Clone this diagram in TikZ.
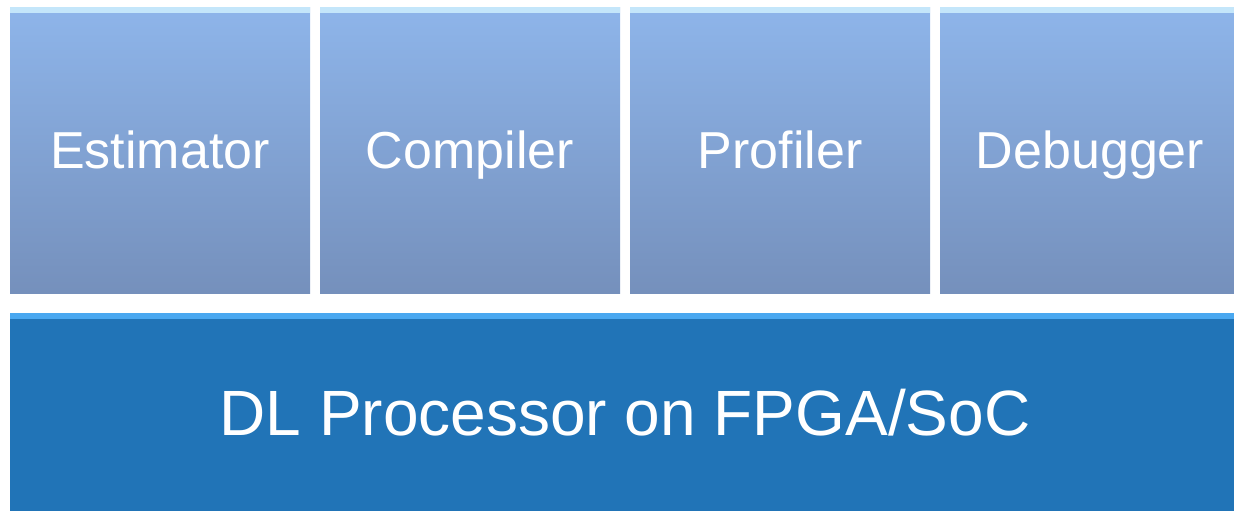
\documentclass[tikz,border=0pt]{standalone}
\usepackage{fontspec}
\setmainfont{Liberation Sans}
\usetikzlibrary{positioning}

\definecolor{tooltop}{HTML}{8EB5EA}
\definecolor{toolbottom}{HTML}{7590BC}
\definecolor{toolrim}{HTML}{C4E6FA}
\definecolor{procfill}{HTML}{2174B7}
\definecolor{procrim}{HTML}{4AA8F0}

\begin{document}
\begin{tikzpicture}[
        toolnode/.style={rectangle, top color=tooltop, bottom color=toolbottom,
            minimum width=150pt, minimum height=143pt, inner sep=0pt, outer sep=0pt,
            text=white, font=\fontsize{26}{30}\selectfont,
            text height=18.6pt, text depth=0pt,
            path picture={\fill[toolrim] (path picture bounding box.north west)
                rectangle ([yshift=-3pt]path picture bounding box.north east);}},
        procnode/.style={rectangle, fill=procfill,
            minimum width=615pt, minimum height=100pt, inner sep=0pt, outer sep=0pt,
            text=white, font=\fontsize{32}{36}\selectfont,
            text height=22.9pt, text depth=0pt,
            path picture={\fill[procrim] (path picture bounding box.north west)
                rectangle ([yshift=-3pt]path picture bounding box.north east);}},
        node distance=5pt,
        ]
        \useasboundingbox (0,0) rectangle (617pt,-255pt);
        \clip (0,0) rectangle (617pt,-255pt);
        %Nodes
        \node[toolnode]      (estimator)   at (80pt,-75pt)          {Estimator};
        \node[toolnode]      (compiler)    [right=of estimator]     {Compiler};
        \node[toolnode]      (profiler)    [right=of compiler]      {Profiler};
        \node[toolnode]      (debugger)    [right=of profiler]      {Debugger};
        \node[procnode, anchor=north west] (processor) at ([yshift=-10pt]estimator.south west) {DL Processor on FPGA/SoC};
\end{tikzpicture}
\end{document}
